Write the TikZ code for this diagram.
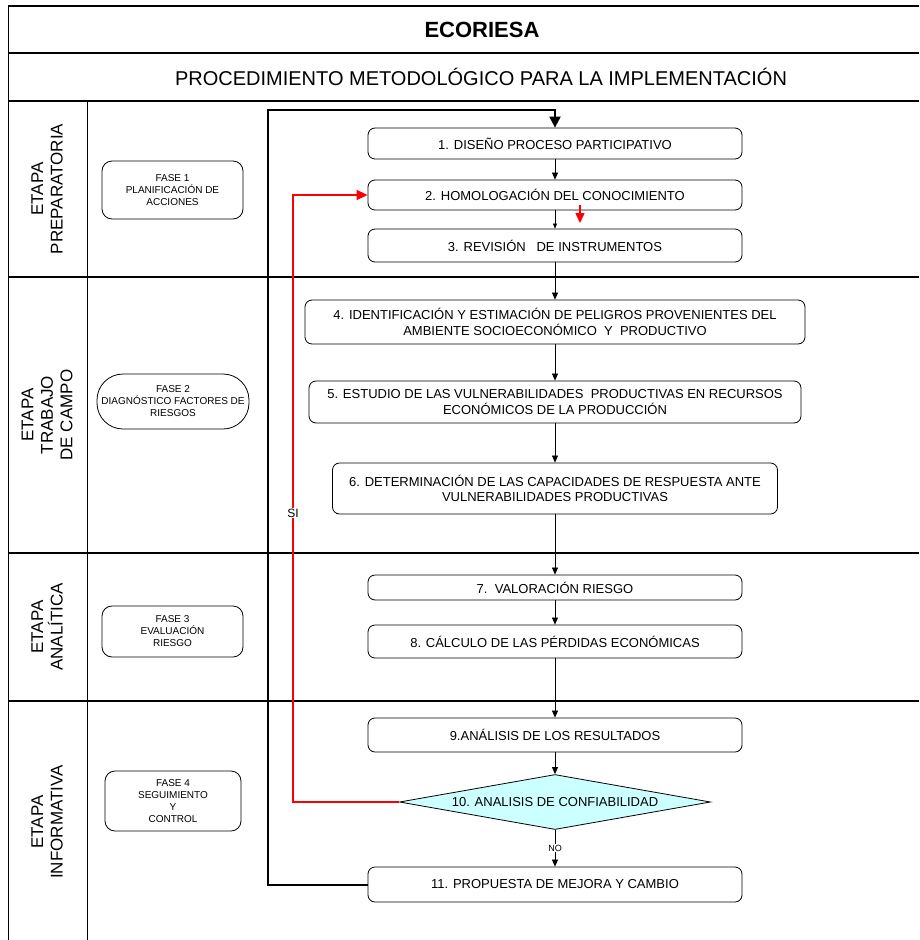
\documentclass[tikz,border=0pt]{standalone}
\usepackage{fontspec}
\setmainfont{Liberation Sans}
\usepackage{tikz}
\usetikzlibrary{shapes.geometric,arrows.meta}
\definecolor{celeste}{RGB}{204,255,255}

\begin{document}
\begin{tikzpicture}[x=1pt,y=-1pt,
	paso/.style={draw, fill=white, rounded corners=7pt, line width=0.8pt, inner sep=0pt, align=center, font=\fontsize{13}{15.5}\selectfont},
	fase/.style={draw, fill=white, rounded corners=10pt, line width=0.8pt, inner sep=0pt, align=center, font=\fontsize{10}{12}\selectfont},
	etapa/.style={rotate=90, align=center, font=\fontsize{17}{19.5}\selectfont},
	flecha/.style={-{Triangle[length=7pt,width=6pt]}, line width=0.7pt},
	tabla/.style={line width=1.5pt}]
				\useasboundingbox (0,0) rectangle (919,940);
				\draw[tabla] (8,6) -- (919,6);
				\draw[tabla] (8,53) -- (919,53);
				\draw[tabla] (8,101) -- (919,101);
				\draw[tabla] (8,277) -- (919,277);
				\draw[tabla] (8,553) -- (919,553);
				\draw[tabla] (8,701) -- (919,701);
				\draw[line width=1pt] (8,6) -- (8,940);
				\draw[line width=0.8pt] (87,101) -- (87,940);
				\node[font=\fontsize{22}{26}\selectfont\bfseries] (titulo) at (482,29.5) {ECORIESA};
				\node[font=\fontsize{20}{24}\selectfont] (subtitulo) at (481,77) {PROCEDIMIENTO METODOLÓGICO PARA LA IMPLEMENTACIÓN};
				\node[etapa] (etapa1) at (47,189) {ETAPA\\PREPARATORIA};
				\node[etapa] (etapa2) at (47,415) {ETAPA\\TRABAJO\\DE CAMPO};
				\node[etapa] (etapa3) at (47,627) {ETAPA\\ANALÍTICA};
				\node[etapa] (etapa4) at (47,822) {ETAPA\\INFORMATIVA};
				\node[fase, minimum width=141, minimum height=58] (fase1) at (172.5,190) {FASE 1\\PLANIFICACIÓN DE\\ACCIONES};
				\node[fase, rounded corners=26pt, minimum width=152, minimum height=55] (fase2) at (173,401.5) {FASE 2\\DIAGNÓSTICO FACTORES DE\\RIESGOS};
				\node[fase, minimum width=141, minimum height=51] (fase3) at (172.5,631.5) {FASE 3\\EVALUACIÓN\\RIESGO};
				\node[fase, minimum width=136, minimum height=60] (fase4) at (173,801) {FASE 4\\SEGUIMIENTO\\Y\\CONTROL};
				\node[paso, minimum width=374, minimum height=31] (b1) at (555,143.5) {1. DISEÑO PROCESO PARTICIPATIVO};
				\node[paso, minimum width=374, minimum height=30] (b2) at (555,195) {2. HOMOLOGACIÓN DEL CONOCIMIENTO};
				\node[paso, minimum width=374, minimum height=33] (b3) at (555,245.5) {3. REVISIÓN\ \ \ DE INSTRUMENTOS};
				\node[paso, minimum width=500, minimum height=44] (b4) at (555,322) {4. IDENTIFICACIÓN Y ESTIMACIÓN DE PELIGROS PROVENIENTES DEL\\AMBIENTE SOCIOECONÓMICO\ \ Y\ \ PRODUCTIVO};
				\node[paso, minimum width=492, minimum height=42] (b5) at (555,402) {5. ESTUDIO DE LAS VULNERABILIDADES\ \ PRODUCTIVAS EN RECURSOS\\ECONÓMICOS DE LA PRODUCCIÓN};
				\node[paso, minimum width=445, minimum height=51] (b6) at (555,488.5) {6. DETERMINACIÓN DE LAS CAPACIDADES DE RESPUESTA ANTE\\VULNERABILIDADES PRODUCTIVAS};
				\node[paso, minimum width=374, minimum height=25] (b7) at (555,587.5) {7.\ \ VALORACIÓN RIESGO};
				\node[paso, minimum width=374, minimum height=33] (b8) at (555,641.5) {8. CÁLCULO DE LAS PÉRDIDAS ECONÓMICAS};
				\node[paso, minimum width=374, minimum height=34] (b9) at (555,735) {9.ANÁLISIS DE LOS RESULTADOS};
				\node[draw, diamond, aspect=5.6, fill=celeste, line width=0.8pt, inner sep=0pt, minimum width=311, minimum height=55, font=\fontsize{13}{15.5}\selectfont] (d10) at (555,802) {10. ANALISIS DE CONFIABILIDAD};
				\node[paso, minimum width=374, minimum height=35] (b11) at (555,884.5) {11. PROPUESTA DE MEJORA Y CAMBIO};
				\draw[flecha] (b1) -- (b2);
				\draw[-{Triangle[length=5pt,width=4pt]}, line width=0.6pt] (b2) -- (b3);
				\draw[flecha] (b3) -- (b4);
				\draw[flecha] (b4) -- (b5);
				\draw[flecha] (b5) -- (b6);
				\draw[flecha] (b6) -- (b7);
				\draw[flecha] (b7) -- (b8);
				\draw[flecha] (b8) -- (b9);
				\draw[flecha] (b9) -- (d10);
				\draw[flecha] (d10) -- (b11) node[midway, fill=white, inner sep=1pt, font=\fontsize{9}{10}\selectfont] (no) {NO};
				\coordinate (vueltaA) at (268,884.5);
				\coordinate (vueltaB) at (268,110);
				\draw[line width=2pt, -{Triangle[length=11pt,width=11pt]}] (b11.west) -- (vueltaA) -- (vueltaB) -| (b1.north);
				\coordinate (rojoA) at (293,802);
				\coordinate (rojoB) at (293,195);
				\draw[red, line width=1.5pt, -{Triangle[length=11pt,width=10pt]}] (d10.west) -- (rojoA) -- (rojoB) -- (b2.west);
				\node[fill=white, inner sep=1pt, font=\fontsize{12}{14}\selectfont] (si) at (293,513) {SI};
				\coordinate (rojoC) at (580,205);
				\coordinate (rojoD) at (580,223);
				\draw[red, line width=1.5pt, -{Triangle[length=10pt,width=9pt]}] (rojoC) -- (rojoD);
			\end{tikzpicture}
\end{document}
